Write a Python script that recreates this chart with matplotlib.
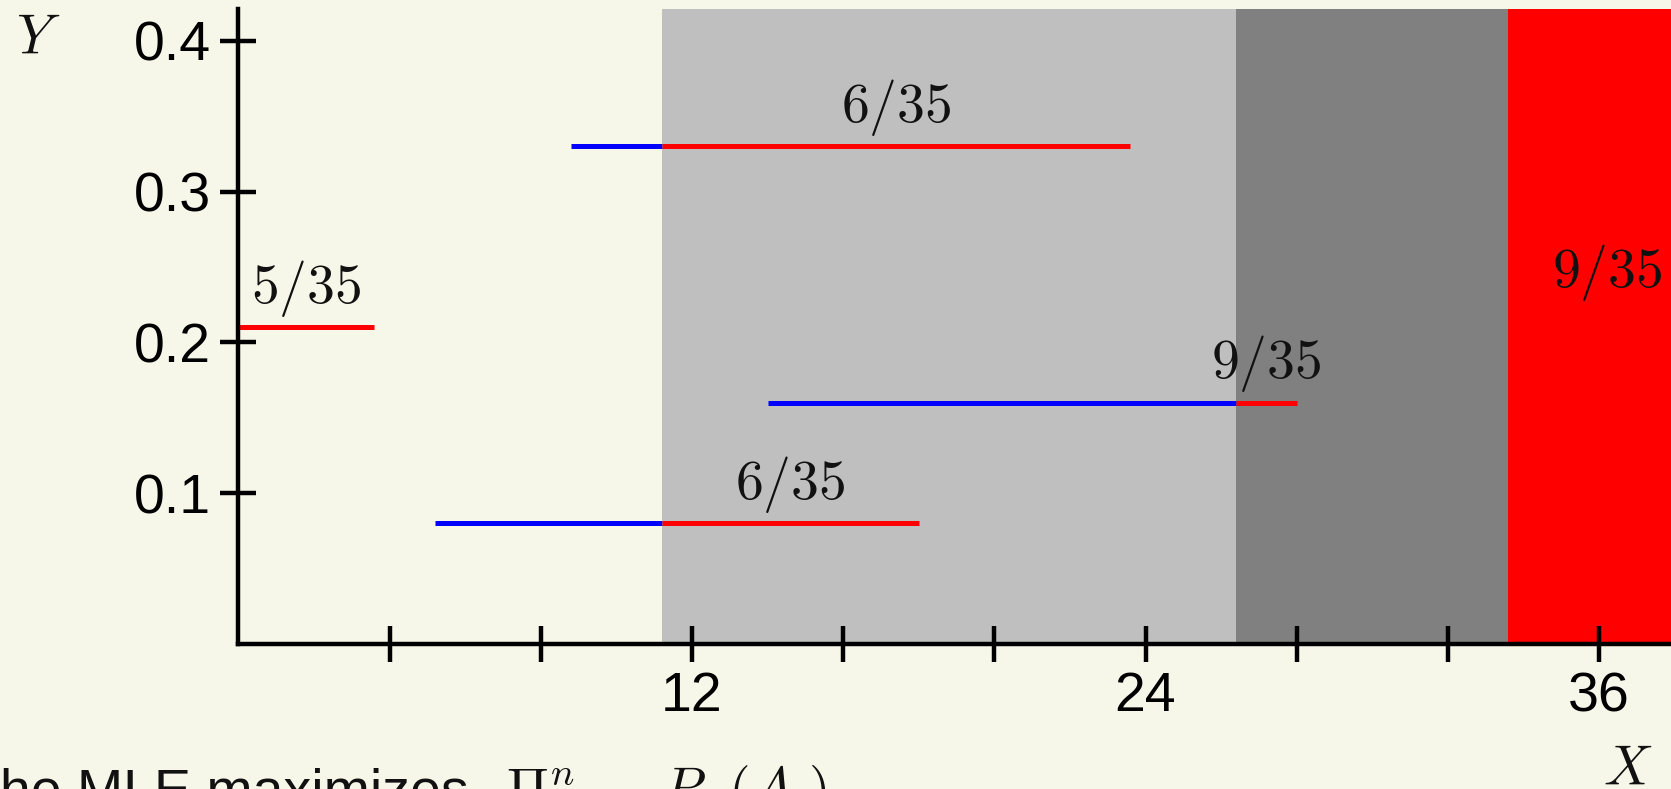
import matplotlib
matplotlib.use("Agg")
import matplotlib.pyplot as plt

plt.rcParams['font.family'] = ['Liberation Sans', 'DejaVu Sans']
plt.rcParams['mathtext.fontset'] = 'cm'

# ---- data ----
seg_y = [0.21, 0.08, 0.33, 0.16]
seg_blue_start = [0.0, 5.2, 8.8, 14.0]
seg_cut = [0.0, 11.2, 11.2, 26.4]
seg_red_end = [3.6, 18.0, 23.6, 28.0]
seg_labels = ["$5/35$", "$6/35$", "$6/35$", "$9/35$"]

region_edges = [11.2, 26.4, 33.6, 38.8]
region_colors = ["#bfbfbf", "#808080", "#ff0000"]
region_label = "$9/35$"
region_label_pos = (36.2, 0.237)

xticks = [4, 8, 12, 16, 20, 24, 28, 32, 36]
xticklabels = ["", "", "12", "", "", "24", "", "", "36"]
yticks = [0.1, 0.2, 0.3, 0.4]
yticklabels = ["0.1", "0.2", "0.3", "0.4"]
xlim = (0, 37.9)
ylim = (0, 0.421)

bg = "#f7f7e9"
W, H = 1671, 789
fig = plt.figure(figsize=(W / 100, H / 100), dpi=100, facecolor=bg)
ax = fig.add_axes([238.3 / W, 1 - 643.7 / H, (W - 238.3) / W, (643.7 - 9.3) / H])
ax.set_facecolor(bg)
ax.set_xlim(*xlim)
ax.set_ylim(*ylim)

for i, c in enumerate(region_colors):
    ax.axvspan(region_edges[i], region_edges[i + 1], color=c, lw=0, zorder=1)

for y, b, c, r, lab in zip(seg_y, seg_blue_start, seg_cut, seg_red_end, seg_labels):
    if c > b:
        ax.plot([b, c], [y, y], color="#0000ff", lw=3.6, solid_capstyle="butt", zorder=3)
    ax.plot([c, r], [y, y], color="#ff0000", lw=3.6, solid_capstyle="butt", zorder=3)
    ax.annotate(lab, xy=((c + r) / 2, y), xytext=(0, 17.6), textcoords="offset points",
                ha="center", va="baseline", fontsize=40, color="#111111", zorder=4)

ax.text(region_label_pos[0], region_label_pos[1], region_label, ha="center", va="baseline",
        fontsize=40, color="#111111", zorder=4)

for s in ["top", "right"]:
    ax.spines[s].set_visible(False)
for s in ["left", "bottom"]:
    ax.spines[s].set_linewidth(3.2)
    ax.spines[s].set_color("black")
    ax.spines[s].set_zorder(5)

ax.set_xticks(xticks)
ax.set_xticklabels(xticklabels)
ax.set_yticks(yticks)
ax.set_yticklabels(yticklabels)
ax.tick_params(direction="inout", length=26, width=3.2, labelsize=40, pad=7, color="black")
for t in ax.get_xticklines() + ax.get_yticklines():
    t.set_zorder(6)

fig.text(38 / W, 1 - 40 / H, "$Y$", ha="center", va="center", fontsize=40, color="#111111")
fig.text(1628 / W, 1 - 785 / H, "$X$", ha="center", va="baseline", fontsize=40, color="#111111")

fig.text(-34 / W, 1 - 807 / H, "The MLE maximizes", ha="left", va="baseline", fontsize=40, color="#111111")
fig.text(506 / W, 1 - 807 / H, r"${\Pi}_{i=1}^{n}\ \ P_\theta\,(A_i)$", ha="left", va="baseline",
         fontsize=40, color="#111111")

fig.savefig("out.png", dpi=100, facecolor=bg)
